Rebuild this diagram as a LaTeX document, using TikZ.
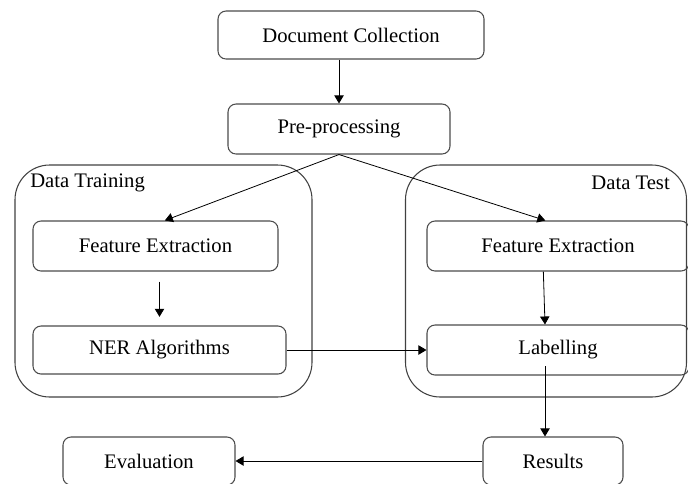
\documentclass[tikz,border=0pt]{standalone}
\usepackage{fontspec}
\setmainfont{Liberation Serif}
\usetikzlibrary{arrows.meta}

\begin{document}
\begin{tikzpicture}
        [x=0.75pt, y=-0.75pt,
         stage/.style={draw=black!70, rounded corners=6pt, line width=0.8pt, inner sep=0pt},
         group/.style={draw=black!75, rounded corners=26pt, line width=0.8pt, inner sep=0pt},
         arr/.style={-{Triangle[length=6pt,width=7pt]}, line width=0.6pt},
         every node/.style={font=\fontsize{15.5}{18}\selectfont}]
        \useasboundingbox (0,0) rectangle (688,483);
        \clip (0,0) rectangle (688,483);
        % the two groups
        \node (train) at (163.5,281) [group, minimum width=222.75pt, minimum height=174pt] {};
        \node (test) at (546,281) [group, minimum width=210.75pt, minimum height=174pt] {};
        \node (trainlbl) at (30,183) [anchor=west, inner sep=0pt] {Data Training};
        \node (testlbl) at (670,183) [anchor=east, inner sep=0pt] {Data Test};
        % the stages
        \node (doc) at (351,35) [stage, minimum width=199.5pt, minimum height=36pt] {Document Collection};
        \node (pre) at (339,129) [stage, minimum width=166.5pt, minimum height=37.5pt] {Pre-processing};
        \node (featL) at (155.5,246) [stage, minimum width=183.75pt, minimum height=37.5pt] {Feature Extraction};
        \node (ner) at (159.5,350) [stage, minimum width=189.75pt, minimum height=36pt] {NER Algorithms};
        \node (featR) at (558,246) [stage, minimum width=196.5pt, minimum height=37.5pt] {Feature Extraction};
        \node (label) at (558,350) [stage, minimum width=196.5pt, minimum height=37.5pt] {Labelling};
        \node (res) at (553,461) [stage, minimum width=105pt, minimum height=36pt] {Results};
        \node (eval) at (149,461) [stage, minimum width=129pt, minimum height=36pt] {Evaluation};
        % connectors
        \draw[arr] (doc.south -| pre.north) -- (pre.north);
        \draw[arr] (pre.south) -- ([xshift=7pt]featL.north);
        \draw[arr] (pre.south) -- ([xshift=-9.5pt]featR.north);
        \draw[arr, shorten <=7.5pt, shorten >=6.5pt] ([xshift=3pt]featL.south) -- ([xshift=0pt]ner.north);
        \draw[arr] ([xshift=-11pt]featR.south) -- ([xshift=-9.75pt]label.north);
        \draw[arr] (ner.east) -- (label.west);
        \draw[arr, shorten <=-7pt] ([xshift=-9.75pt]label.south) -- ([xshift=-6pt]res.north);
        \draw[arr] (res.west) -- (eval.east);
      \end{tikzpicture}
\end{document}
